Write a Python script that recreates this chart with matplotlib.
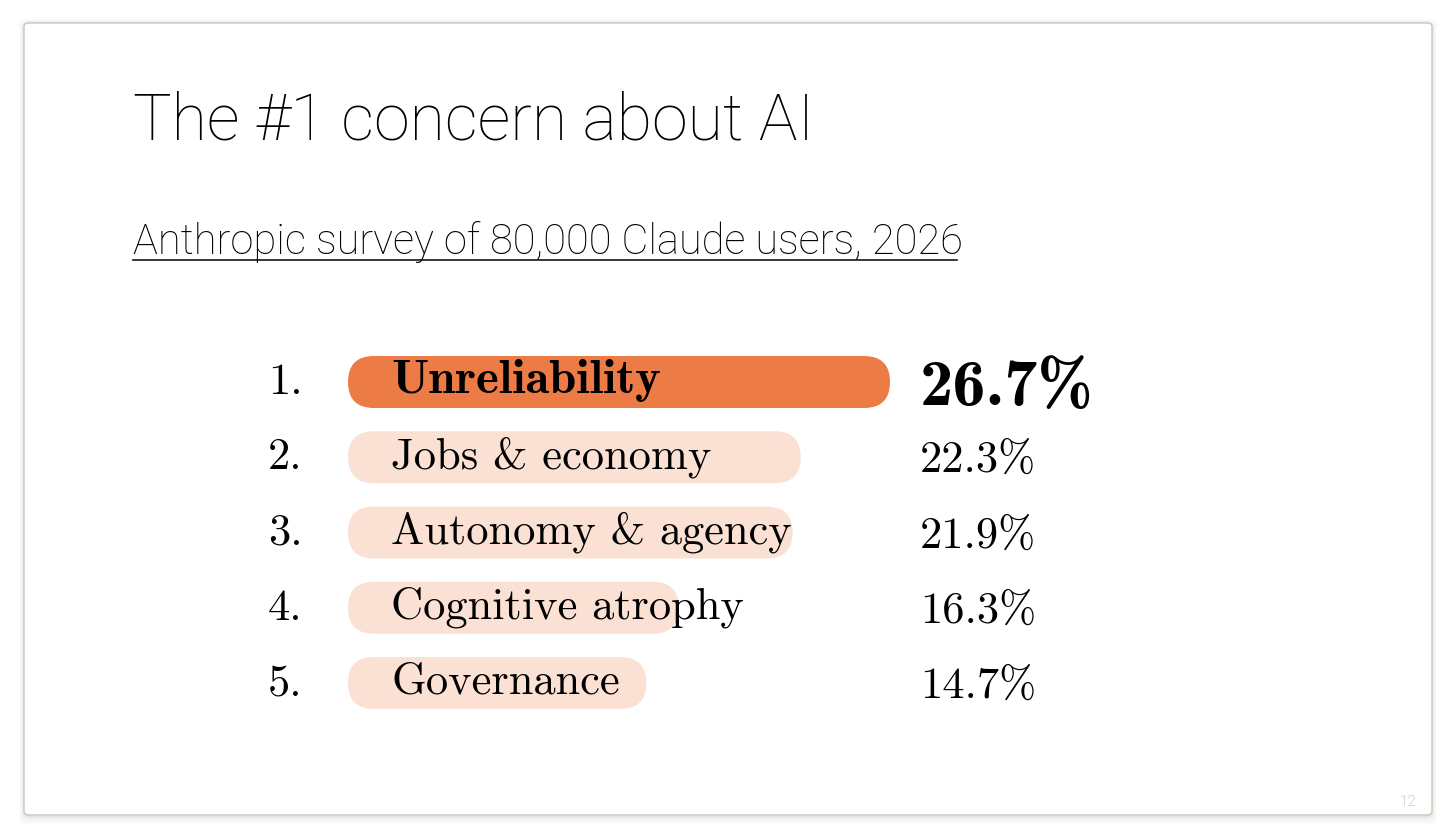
import matplotlib
matplotlib.use("Agg")
import matplotlib.pyplot as plt
from matplotlib.patches import FancyBboxPatch
from matplotlib.lines import Line2D

# ---- data ----
title = "The #1 concern about AI"
subtitle = "Anthropic survey of 80,000 Claude users, 2026"
ranks = ["1.", "2.", "3.", "4.", "5."]
categories = ["Unreliability", "Jobs & economy", "Autonomy & agency",
              "Cognitive atrophy", "Governance"]
values = [26.7, 22.3, 21.9, 16.3, 14.7]
value_labels = ["26.7%", "22.3%", "21.9%", "16.3%", "14.7%"]
page_number = "12"

# ---- style ----
W, H = 1456, 839
X0 = 348.0      # pixel of value 0
XS = 20.3       # pixels per percent
Y0 = 382.0      # pixel of first row center
YS = 75.25      # pixels per row
BAR_H_PX = 52.0
ORANGE = "#EC7B46"
PEACH = "#FAE1D4"
HEAD_FONT = ["Roboto", "DejaVu Sans"]

fig = plt.figure(figsize=(W / 100, H / 100), dpi=100)
fig.patch.set_facecolor("white")

def fx(px):
    return px / W

def fy(py):
    return 1 - py / H

# slide frame with soft shadow
for k, a in [(10, 0.012), (8, 0.015), (6, 0.02), (4, 0.03), (2, 0.05)]:
    sh = FancyBboxPatch((fx(24 - k * 0.5), fy(815 + k)), fx(1408 + k * 1.0), (792 + k * 1.4) / H,
                        boxstyle="round,pad=0,rounding_size=0.006",
                        transform=fig.transFigure, facecolor="#3a3020", edgecolor="none",
                        alpha=a, zorder=0)
    fig.patches.append(sh)
frame = FancyBboxPatch((fx(24), fy(815)), fx(1408), 792 / H,
                       boxstyle="round,pad=0,rounding_size=0.004",
                       transform=fig.transFigure, facecolor="white",
                       edgecolor="#cdc8bd", linewidth=1.0, zorder=0.5)
fig.patches.append(frame)

ax = fig.add_axes([0, 0, 1, 1])
ax.set_zorder(2)
ax.patch.set_alpha(0)
ax.set_xlim(-X0 / XS, (W - X0) / XS)
ax.set_ylim((H - Y0) / YS, -Y0 / YS)
ax.axis("off")

# bars as pills
bar_h = BAR_H_PX / YS
r = (BAR_H_PX / 2) / XS
aspect = XS / YS
for i, v in enumerate(values):
    color = ORANGE if i == 0 else PEACH
    p = FancyBboxPatch((0, i - bar_h / 2), v, bar_h,
                       boxstyle=f"round,pad=0,rounding_size={r}",
                       mutation_aspect=aspect,
                       facecolor=color, edgecolor="none", zorder=1)
    ax.add_patch(p)

rank_x = (268 - X0) / XS
label_x = (391 - X0) / XS
val_x = (920 - X0) / XS
for i, (rk, cat, vl) in enumerate(zip(ranks, categories, value_labels)):
    ax.text(rank_x, i + 12 / YS, rk, family="cmr10", fontsize=32,
            va="baseline", ha="left", color="black", zorder=3)
    if i == 0:
        ax.text(label_x, i + 11 / YS, cat, family="cmb10", fontsize=35,
                va="baseline", ha="left", color="black", zorder=3)
        ax.text(val_x, i + 23 / YS, vl, family="cmb10", fontsize=48,
                va="baseline", ha="left", color="black", zorder=3)
    else:
        ax.text(label_x, i + 11 / YS, cat, family="cmr10", fontsize=32,
                va="baseline", ha="left", color="black", zorder=3)
        ax.text(val_x, i + 15 / YS, vl, family="cmr10", fontsize=32,
                va="baseline", ha="left", color="black", zorder=3)

# title & subtitle
fig.text(fx(133), fy(140), title, family=HEAD_FONT, fontweight="light",
         fontsize=46.5, va="baseline", ha="left", color="black")
fig.text(fx(133), fy(254), subtitle, family=HEAD_FONT, fontweight="light",
         fontsize=30, va="baseline", ha="left", color="black")
fig.add_artist(Line2D([fx(133), fx(957)], [fy(260), fy(260)],
                      transform=fig.transFigure, color="black", linewidth=1.1))

fig.text(fx(1416), fy(806), page_number, family=HEAD_FONT, fontweight="light",
         fontsize=11, va="baseline", ha="right", color="#a8a398")

fig.savefig("out.png", dpi=100, facecolor="white")
